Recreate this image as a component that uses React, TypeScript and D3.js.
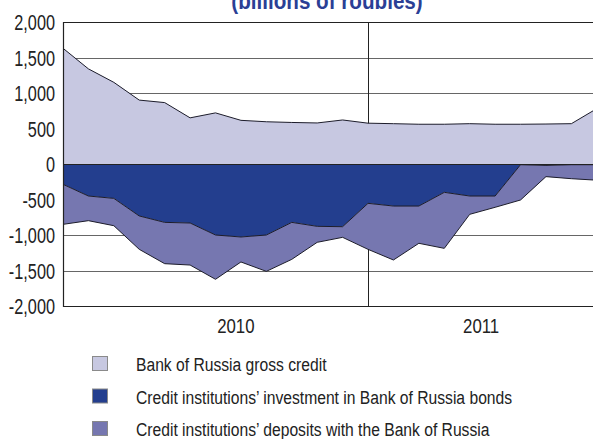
import * as d3 from 'd3'
import { useEffect, useRef } from 'react'

const WIDTH = 593
const HEIGHT = 439
const PLOT_LEFT = 63
const PLOT_TOP = 22
const PLOT_BOTTOM = 306
const LAST_X = 596.8

// no condensed face installed, so Liberation Sans squeezed horizontally
const FONT = '"Liberation Sans", Arial, sans-serif'

// monthly observations, Jan 2010 onward
const months = [
  '2010-01', '2010-02', '2010-03', '2010-04', '2010-05', '2010-06',
  '2010-07', '2010-08', '2010-09', '2010-10', '2010-11', '2010-12',
  '2011-01', '2011-02', '2011-03', '2011-04', '2011-05', '2011-06',
  '2011-07', '2011-08', '2011-09', '2011-10',
]
const grossCredit = [
  1630, 1340, 1150, 900, 865, 650, 720, 615, 595, 585, 578,
  620, 575, 568, 560, 560, 568, 560, 560, 563, 568, 780,
]
const bondInvestment = [
  286, 451, 484, 732, 822, 831, 1000, 1028, 1000, 822, 878,
  883, 554, 592, 592, 399, 451, 451, 10, 20, 10, 10,
]
const deposits = [
  564, 347, 385, 470, 582, 592, 624, 352, 512, 521, 225,
  150, 648, 760, 525, 789, 258, 159, 497, 158, 197, 218,
]
const yTicks = [-2000, -1500, -1000, -500, 0, 500, 1000, 1500, 2000]
const gridValues = [-1500, -1000, 1000, 1500]
const yearLabels = ['2010', '2011']
const yearLabelAt = [6.8, 16.45]
const yearStartIndex = 12

const legendItems = [
  'Bank of Russia gross credit',
  'Credit institutions’ investment in Bank of Russia bonds',
  'Credit institutions’ deposits with the Bank of Russia',
]
const COLORS = ['#c7c8e1', '#233e8e', '#7677b0']
const TITLE = '(billions of roubles)'

type Sel = d3.Selection<SVGGElement, unknown, null, undefined>

const tickFormat = d3.formatLocale({
  decimal: '.',
  thousands: ',',
  grouping: [3],
  currency: ['', ''],
  minus: '-',
}).format(',')

// narrow text: translate to the anchor point, then squeeze x
const squeezed = (
  parent: Sel,
  x: number,
  y: number,
  text: string,
  size: number,
  sx: number,
  anchor = 'start',
) =>
  parent
    .append('g')
    .attr('transform', `translate(${x},${y})`)
    .append('text')
    .attr('transform', `scale(${sx},1)`)
    .attr('text-anchor', anchor)
    .attr('font-family', FONT)
    .attr('font-size', size)
    .attr('fill', '#222')
    .text(text)

function buildChart(node: SVGSVGElement) {
  const svg = d3.select(node)
  svg.selectAll('*').remove()
  const root = svg.append('g') as unknown as Sel

  const x = d3.scaleLinear([0, months.length - 1], [PLOT_LEFT, LAST_X])
  const y = d3.scaleLinear([-2000, 2000], [PLOT_BOTTOM, PLOT_TOP])

  svg
    .append('defs')
    .append('clipPath')
    .attr('id', 'plot-clip')
    .append('rect')
    .attr('x', PLOT_LEFT)
    .attr('y', PLOT_TOP)
    .attr('width', WIDTH - PLOT_LEFT)
    .attr('height', PLOT_BOTTOM - PLOT_TOP)

  // title (mostly cropped off the top, as in the source)
  squeezed(root, 327, 9, TITLE, 24, 0.86, 'middle')
    .attr('font-weight', 'bold')
    .attr('fill', '#2b3f95')

  // grid + year divider behind areas
  root
    .append('g')
    .selectAll('line')
    .data(gridValues)
    .join('line')
    .attr('x1', PLOT_LEFT)
    .attr('x2', WIDTH)
    .attr('y1', (d) => Math.round(y(d)) + 0.5)
    .attr('y2', (d) => Math.round(y(d)) + 0.5)
    .attr('stroke', '#666')
    .attr('stroke-width', 1)

  root
    .append('line')
    .attr('x1', Math.round(x(yearStartIndex)) + 0.5)
    .attr('x2', Math.round(x(yearStartIndex)) + 0.5)
    .attr('y1', PLOT_TOP)
    .attr('y2', PLOT_BOTTOM)
    .attr('stroke', '#222')

  const plot = root.append('g').attr('clip-path', 'url(#plot-clip)')
  const idx = months.map((_, i) => i)

  const creditArea = d3
    .area<number>()
    .x((i) => x(i))
    .y0(y(0))
    .y1((i) => y(grossCredit[i]))
  const bondArea = d3
    .area<number>()
    .x((i) => x(i))
    .y0(y(0))
    .y1((i) => y(-bondInvestment[i]))
  const depositArea = d3
    .area<number>()
    .x((i) => x(i))
    .y0((i) => y(-bondInvestment[i]))
    .y1((i) => y(-bondInvestment[i] - deposits[i]))

  plot.append('path').attr('d', creditArea(idx)).attr('fill', COLORS[0])
  plot.append('path').attr('d', bondArea(idx)).attr('fill', COLORS[1])
  plot.append('path').attr('d', depositArea(idx)).attr('fill', COLORS[2])

  const edge = (f: (i: number) => number) =>
    d3
      .line<number>()
      .x((i) => x(i))
      .y((i) => y(f(i)))(idx)
  ;[
    edge((i) => grossCredit[i]),
    edge((i) => -bondInvestment[i]),
    edge((i) => -bondInvestment[i] - deposits[i]),
  ].forEach((d) =>
    plot
      .append('path')
      .attr('d', d)
      .attr('fill', 'none')
      .attr('stroke', '#1c1c2a')
      .attr('stroke-width', 1),
  )

  // zero line and frame
  root
    .append('line')
    .attr('x1', PLOT_LEFT)
    .attr('x2', WIDTH)
    .attr('y1', Math.round(y(0)) + 0.5)
    .attr('y2', Math.round(y(0)) + 0.5)
    .attr('stroke', '#222')
  root
    .append('path')
    .attr(
      'd',
      `M${WIDTH},${PLOT_TOP + 0.5}H${PLOT_LEFT + 0.5}V${PLOT_BOTTOM + 0.5}H${WIDTH}`,
    )
    .attr('fill', 'none')
    .attr('stroke', '#222')
    .attr('stroke-width', 1.2)

  // y axis labels
  yTicks.forEach((t) =>
    squeezed(root, PLOT_LEFT - 8, y(t) + 8, tickFormat(t), 22, 0.74, 'end'),
  )

  // year labels
  yearLabels.forEach((label, i) =>
    squeezed(root, x(yearLabelAt[i]), 333, label, 21, 0.8, 'middle'),
  )

  // legend
  legendItems.forEach((label, i) => {
    const row = root.append('g').attr('transform', `translate(92,${356 + i * 32.5})`) as Sel
    row
      .append('rect')
      .attr('x', 0.5)
      .attr('y', 0.5)
      .attr('width', 15)
      .attr('height', 14)
      .attr('fill', COLORS[i])
      .attr('stroke', '#8a8a8a')
    squeezed(row, 44, 15, label, 18, 0.87)
  })
}

export default function App() {
  const ref = useRef<SVGSVGElement>(null)
  useEffect(() => {
    if (ref.current) buildChart(ref.current)
  }, [])
  return (
    <svg
      ref={ref}
      width={WIDTH}
      height={HEIGHT}
      style={{ position: 'absolute', left: 0, top: 0, background: '#fff' }}
    />
  )
}
